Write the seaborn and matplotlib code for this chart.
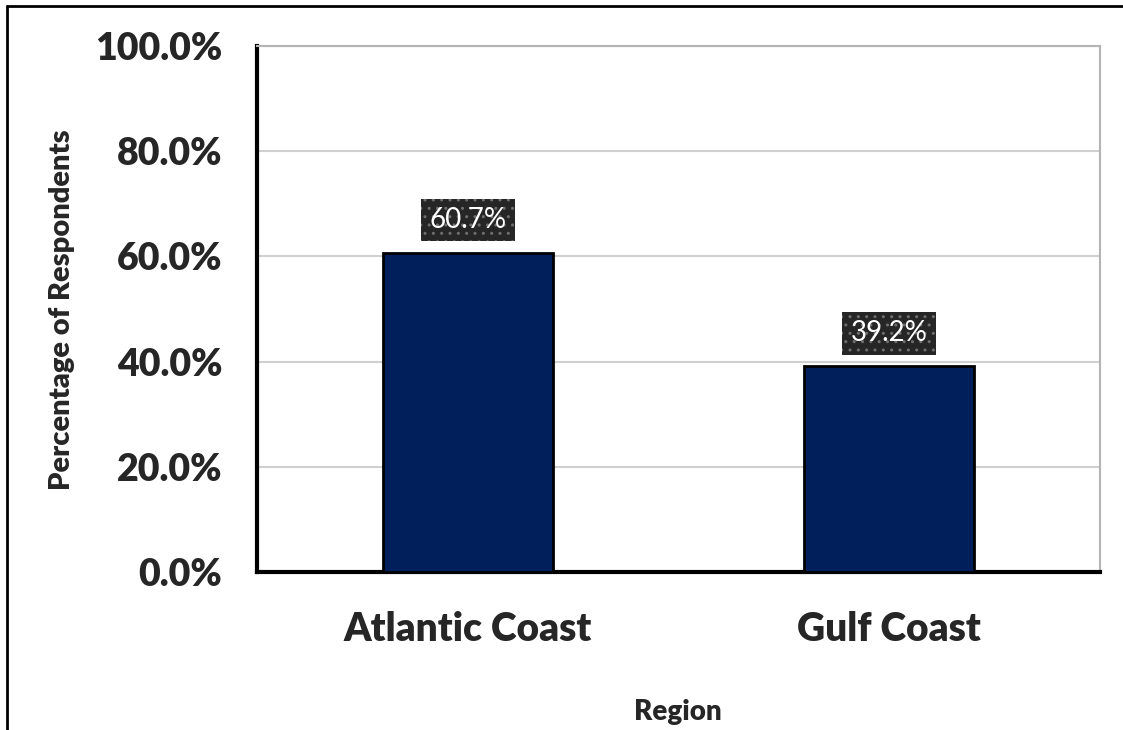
import matplotlib
matplotlib.use("Agg")
import matplotlib.pyplot as plt
import seaborn as sns
import pandas as pd
from matplotlib.lines import Line2D
from matplotlib.ticker import FuncFormatter

regions = ["Atlantic Coast", "Gulf Coast"]
percentages = [60.7, 39.2]
yticks = [0, 20, 40, 60, 80, 100]

sns.set_style("white")
plt.rcParams["font.family"] = ["Lato", "DejaVu Sans"]

df = pd.DataFrame({"Region": regions, "Pct": percentages})

fig = plt.figure(figsize=(11.23, 7.30), dpi=100)
ax = fig.add_axes([257 / 1123, 1 - 572 / 730, (1100 - 257) / 1123, (572 - 46) / 730])

sns.barplot(data=df, x="Region", y="Pct", ax=ax, color="#001f5b",
            width=0.403, edgecolor="black", linewidth=2, saturation=1, zorder=3)

ax.set_ylim(0, 100)
ax.set_xlim(-0.5, 1.5)
ax.set_yticks(yticks)
ax.yaxis.set_major_formatter(FuncFormatter(lambda v, p: f"{v:.1f}%"))
ax.grid(axis="y", color="#d0d0d0", linewidth=1.5, zorder=0)
ax.set_axisbelow(True)

for s in ["top", "right"]:
    ax.spines[s].set_color("#b4b4b4")
    ax.spines[s].set_linewidth(1.5)
for s in ["left", "bottom"]:
    ax.spines[s].set_color("black")
    ax.spines[s].set_linewidth(3)

ax.tick_params(axis="y", labelsize=27, length=0, pad=25)
ax.tick_params(axis="x", labelsize=28, length=0, pad=28)
for lab in ax.get_xticklabels() + ax.get_yticklabels():
    lab.set_fontweight("heavy")

ax.set_xlabel("")
ax.set_ylabel("")
fig.text(678 / 1123, 1 - 712 / 730, "Region", ha="center", va="center",
         fontsize=20, fontweight="heavy")
fig.text(62 / 1123, 1 - 310 / 730, "Percentage of Respondents", ha="center",
         va="center", rotation=90, fontsize=21, fontweight="heavy")

for i, v in enumerate(percentages):
    ax.text(i, v + 6.2, f"{v:.1f}%", ha="center", va="center", fontsize=20,
            color="white", zorder=5,
            bbox=dict(boxstyle="square,pad=0.3", fc="#262626", ec="#6e6e6e",
                      lw=0, hatch=".."))

fig.add_artist(Line2D([7 / 1123, 7 / 1123], [0, 1 - 6 / 730], color="black", lw=2))
fig.add_artist(Line2D([7 / 1123, 1], [1 - 6 / 730, 1 - 6 / 730], color="black", lw=2))

fig.savefig("out.png", dpi=100)
